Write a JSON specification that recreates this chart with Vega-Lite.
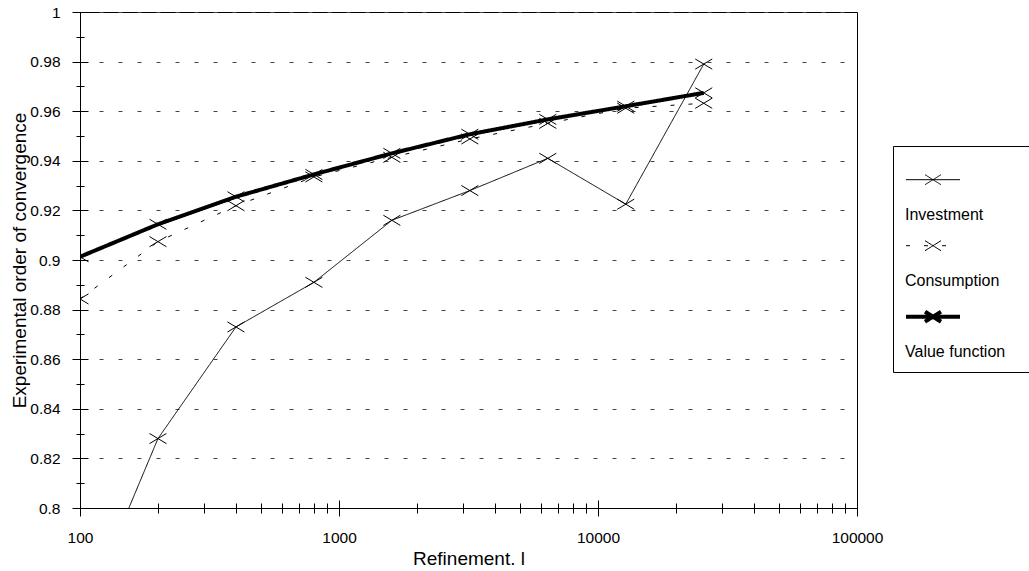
{
  "$schema": "https://vega.github.io/schema/vega-lite/v6.json",
  "width": 777,
  "height": 496,
  "autosize": {"type": "none"},
  "padding": {"left": 80, "top": 12, "right": 172, "bottom": 63},
  "background": "white",
  "config": {
    "font": "Liberation Sans",
    "view": {"stroke": "black", "strokeWidth": 1},
    "axis": {
      "domainColor": "black",
      "tickColor": "black",
      "labelColor": "black",
      "titleColor": "black",
      "labelFont": "Liberation Sans",
      "titleFont": "Liberation Sans",
      "labelFontSize": 15.5,
      "titleFontSize": 19,
      "titleFontWeight": "normal",
      "grid": false,
      "labelFlush": false,
      "labelOverlap": false
    },
    "legend": {
      "title": null,
      "orient": "none",
      "legendX": 813,
      "legendY": 134,
      "symbolType": "M-5.4,2.74L5.4,2.74M-1.6,1.74L-0.96,2.14M-0.96,2.14L-0.32,2.54M-0.32,2.54L0.32,2.94M0.32,2.94L0.96,3.34M0.96,3.34L1.6,3.74M-1.6,3.74L-0.96,3.34M-0.96,3.34L-0.32,2.94M-0.32,2.94L0.32,2.54M0.32,2.54L0.96,2.14M0.96,2.14L1.6,1.74M0,-1M15.2,2.74",
      "symbolSize": 100,
      "symbolStrokeColor": "black",
      "symbolOffset": 20,
      "labelFont": "Liberation Sans",
      "labelFontSize": 16,
      "labelColor": "black",
      "labelOffset": -36,
      "labelBaseline": "middle",
      "strokeColor": "black",
      "padding": 12,
      "rowPadding": 1
    }
  },
  "data": {
    "values": [
      {"refinement": 100, "series": "Investment", "eoc": 0.753},
      {"refinement": 200, "series": "Investment", "eoc": 0.828},
      {"refinement": 400, "series": "Investment", "eoc": 0.873},
      {"refinement": 800, "series": "Investment", "eoc": 0.891},
      {"refinement": 1600, "series": "Investment", "eoc": 0.916},
      {"refinement": 3200, "series": "Investment", "eoc": 0.928},
      {"refinement": 6400, "series": "Investment", "eoc": 0.941},
      {"refinement": 12800, "series": "Investment", "eoc": 0.9225},
      {"refinement": 25600, "series": "Investment", "eoc": 0.979},
      {"refinement": 100, "series": "Consumption", "eoc": 0.8843},
      {"refinement": 200, "series": "Consumption", "eoc": 0.9074},
      {"refinement": 400, "series": "Consumption", "eoc": 0.9219},
      {"refinement": 800, "series": "Consumption", "eoc": 0.9335},
      {"refinement": 1600, "series": "Consumption", "eoc": 0.9414},
      {"refinement": 3200, "series": "Consumption", "eoc": 0.9488},
      {"refinement": 6400, "series": "Consumption", "eoc": 0.9551},
      {"refinement": 12800, "series": "Consumption", "eoc": 0.9612},
      {"refinement": 25600, "series": "Consumption", "eoc": 0.9632},
      {"refinement": 100, "series": "Value function", "eoc": 0.9013},
      {"refinement": 200, "series": "Value function", "eoc": 0.9144},
      {"refinement": 400, "series": "Value function", "eoc": 0.9255},
      {"refinement": 800, "series": "Value function", "eoc": 0.9345},
      {"refinement": 1600, "series": "Value function", "eoc": 0.943},
      {"refinement": 3200, "series": "Value function", "eoc": 0.9507},
      {"refinement": 6400, "series": "Value function", "eoc": 0.9567},
      {"refinement": 12800, "series": "Value function", "eoc": 0.962},
      {"refinement": 25600, "series": "Value function", "eoc": 0.9674}
    ]
  },
  "layer": [
    {
      "mark": {"type": "line", "clip": true, "color": "black"},
      "encoding": {
        "x": {
          "field": "refinement",
          "type": "quantitative",
          "scale": {"type": "log", "domain": [100, 100000]},
          "axis": {
            "orient": "bottom",
            "values": [100, 1000, 10000, 100000],
            "format": "d",
            "ticks": false,
            "tickSize": 0,
            "labelPadding": 22,
            "title": "Refinement. l",
            "titlePadding": 4
          }
        },
        "y": {
          "field": "eoc",
          "type": "quantitative",
          "scale": {"domain": [0.8, 1]},
          "axis": {
            "orient": "left",
            "values": [0.8, 0.82, 0.84, 0.86, 0.88, 0.9, 0.92, 0.94, 0.96, 0.98, 1],
            "format": "~g",
            "ticks": false,
            "tickSize": 0,
            "labelPadding": 20,
            "title": "Experimental order of convergence",
            "titlePadding": 0,
            "grid": true,
            "gridDash": [4, 15],
            "gridColor": "#444",
            "gridWidth": 1
          }
        },
        "strokeDash": {
          "field": "series",
          "type": "nominal",
          "scale": {
            "domain": ["Investment", "Consumption", "Value function"],
            "range": [[1, 0], [4, 14], [1, 0]]
          },
          "legend": {
            "encode": {"labels": {"update": {"dy": {"value": 49}}}}
          }
        },
        "strokeWidth": {
          "field": "series",
          "type": "nominal",
          "scale": {
            "type": "ordinal",
            "domain": ["Investment", "Consumption", "Value function"],
            "range": [1, 1, 4]
          },
          "legend": {
            "encode": {"labels": {"update": {"dy": {"value": 49}}}}
          }
        }
      }
    },
    {
      "transform": [{"filter": "datum.series === 'Investment'"}],
      "mark": {
        "type": "point",
        "clip": true,
        "shape": "M-1,-0.6L1,0.6M-1,0.6L1,-0.6",
        "size": 289,
        "filled": false,
        "stroke": "black",
        "strokeWidth": 1,
        "opacity": 1
      },
      "encoding": {
        "x": {
          "field": "refinement",
          "type": "quantitative",
          "scale": {"type": "log", "domain": [100, 100000]},
          "axis": {
            "orient": "bottom",
            "values": [100, 1000, 10000, 100000],
            "labels": false,
            "domain": false,
            "title": null,
            "tickSize": 16,
            "offset": -8
          }
        },
        "y": {
          "field": "eoc",
          "type": "quantitative",
          "scale": {"domain": [0.8, 1]},
          "axis": {
            "orient": "left",
            "values": [0.8, 0.82, 0.84, 0.86, 0.88, 0.9, 0.92, 0.94, 0.96, 0.98, 1],
            "labels": false,
            "domain": false,
            "title": null,
            "tickSize": 16,
            "offset": -8
          }
        }
      }
    },
    {
      "transform": [{"filter": "datum.series !== 'Investment'"}],
      "mark": {
        "type": "point",
        "clip": true,
        "shape": "M-1,-0.6L1,0.6M-1,0.6L1,-0.6",
        "size": 289,
        "filled": false,
        "stroke": "black",
        "strokeWidth": 1,
        "opacity": 1
      },
      "encoding": {
        "x": {
          "field": "refinement",
          "type": "quantitative",
          "scale": {"type": "log", "domain": [100, 100000]},
          "axis": {
            "orient": "bottom",
            "values": [200, 300, 400, 500, 600, 700, 800, 900, 2000, 3000, 4000, 5000, 6000, 7000, 8000, 9000, 20000, 30000, 40000, 50000, 60000, 70000, 80000, 90000],
            "labels": false,
            "domain": false,
            "title": null,
            "tickSize": 10,
            "offset": -5
          }
        },
        "y": {
          "field": "eoc",
          "type": "quantitative",
          "scale": {"domain": [0.8, 1]},
          "axis": {
            "orient": "left",
            "values": [0.81, 0.83, 0.85, 0.87, 0.89, 0.91, 0.93, 0.95, 0.97, 0.99],
            "labels": false,
            "domain": false,
            "title": null,
            "tickSize": 8,
            "offset": -4
          }
        }
      }
    }
  ],
  "resolve": {"axis": {"x": "independent", "y": "independent"}}
}
